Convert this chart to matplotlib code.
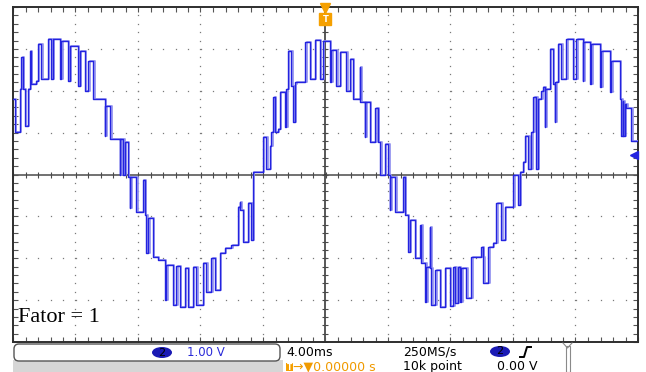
import matplotlib.pyplot as plt
import numpy as np
from matplotlib.patches import FancyBboxPatch, Ellipse, Rectangle
from matplotlib.lines import Line2D
from matplotlib.transforms import IdentityTransform

# channel 2 trace: (time in ms, level in V) at each switching instant
cycle1_pos = [(-20.0, 1.80), (-19.90, 1.01), (-19.58, 2.04), (-19.46, 2.80), (-19.39, 2.04),
              (-19.26, 1.15), (-19.07, 2.04), (-18.94, 2.95), (-18.88, 2.16), (-18.56, 2.23),
              (-18.43, 3.11), (-18.18, 2.28), (-17.79, 3.23), (-17.54, 2.28), (-17.47, 3.23),
              (-17.02, 2.28), (-16.90, 3.19), (-16.51, 2.23), (-16.38, 3.06), (-15.87, 2.11),
              (-15.74, 2.95), (-15.42, 1.99), (-15.17, 2.71), (-14.85, 1.80), (-14.14, 0.91),
              (-14.08, 1.63), (-13.76, 0.84), (-13.18, 0.00), (-13.12, 0.84), (-12.93, 0.00),
              (-12.86, 0.77)]
cycle1_neg = [(-12.67, -0.05), (-12.54, -0.79), (-12.48, -0.05), (-12.10, -0.89), (-11.71, -0.12),
              (-11.58, -0.96), (-11.46, -1.87), (-11.33, -1.03), (-11.07, -1.96), (-10.75, -2.04),
              (-10.30, -2.99), (-10.18, -2.16), (-9.79, -3.11), (-9.54, -2.18), (-9.34, -3.16),
              (-9.02, -2.23), (-8.83, -3.16), (-8.51, -2.20), (-8.26, -3.11), (-7.87, -2.11),
              (-7.62, -2.80), (-7.30, -1.99), (-7.10, -2.75), (-6.78, -1.87), (-6.46, -1.75),
              (-6.02, -1.68), (-5.63, -0.77), (-5.50, -0.65), (-5.44, -0.84), (-5.31, -1.60),
              (-4.99, -0.67), (-4.74, -1.56)]
cycle2_pos = [(-4.67, 0.05), (-4.03, 0.89), (-3.78, 0.12), (-3.58, 0.67), (-3.46, 1.01),
              (-3.33, 1.84), (-3.26, 1.01), (-3.07, 1.08), (-2.94, 1.96), (-2.56, 1.13),
              (-2.50, 2.04), (-2.43, 2.95), (-2.18, 2.11), (-2.05, 1.25), (-1.98, 2.16),
              (-1.92, 2.20), (-1.28, 3.16), (-1.02, 2.28), (-0.70, 3.21), (-0.38, 2.28),
              (-0.19, 3.19), (0.26, 2.20), (0.38, 2.97), (0.70, 2.11), (0.90, 2.92),
              (1.34, 1.99), (1.54, 2.75), (1.73, 1.80), (2.18, 2.56), (2.24, 1.72),
              (2.50, 0.89), (2.56, 1.72), (2.82, 0.77), (3.20, 1.60), (3.33, 0.77),
              (3.52, 0.00), (3.78, 0.72)]
cycle2_neg = [(4.03, -0.02), (4.10, -0.84), (4.16, -0.05), (4.48, -0.89), (4.93, -0.07),
              (5.06, -0.96), (5.25, -1.84), (5.38, -1.08), (5.70, -1.99), (6.08, -1.20),
              (6.14, -2.11), (6.40, -3.04), (6.46, -2.20), (6.66, -1.25), (6.72, -2.23),
              (6.78, -3.11), (7.04, -2.28), (7.30, -3.16), (7.62, -2.23), (7.94, -3.14),
              (8.19, -2.20), (8.32, -3.07), (8.45, -2.20), (8.58, -3.04), (8.70, -2.23),
              (9.02, -2.95), (9.34, -1.96), (9.98, -1.72), (10.05, -1.96), (10.11, -2.59),
              (10.43, -1.72), (10.69, -1.63), (10.94, -0.67), (11.26, -1.56), (11.46, -0.77),
              (12.03, 0.00), (12.35, -0.72)]
cycle3_pos = [(12.42, 0.05), (12.61, 0.29), (12.74, 0.91), (12.99, 0.12), (13.18, 1.01),
              (13.31, 1.84), (13.50, 0.12), (13.57, 1.80), (13.82, 1.99), (13.89, 2.08),
              (14.02, 1.13), (14.08, 2.04), (14.34, 2.99), (14.53, 2.16), (14.66, 1.25),
              (14.72, 2.20), (14.85, 3.11), (15.10, 2.28), (15.42, 3.23), (15.81, 2.28),
              (16.06, 3.23), (16.45, 2.23), (16.51, 3.16), (16.90, 2.16), (17.02, 3.11),
              (17.54, 2.08), (17.66, 2.95), (18.18, 1.96), (18.30, 2.71), (18.82, 1.80),
              (18.94, 0.91), (19.01, 1.75), (19.07, 0.91), (19.14, 1.68), (19.26, 1.60),
              (19.58, 0.79), (20.0, 0.79)]

trigger_level = 0.47  # V, marker on the right edge
label = "Fator = 1"

W, H = 646, 372
fig = plt.figure(figsize=(W / 100, H / 100), dpi=100)
ax = fig.add_axes([13 / W, 30 / H, 625 / W, 335 / H])
ax.set_xlim(-20, 20)
ax.set_ylim(-4, 4)

# graticule: dotted divisions, crosshair with fine ticks
grid_col = "#7a7a7a"
for xd in np.arange(-16, 17, 4):
    if xd == 0:
        continue
    yy = np.arange(-4, 4.01, 0.2)
    ax.plot(np.full_like(yy, xd), yy, ls="none", marker="s", ms=0.9, mew=0, color=grid_col)
for yd in np.arange(-3, 4, 1):
    if yd == 0:
        continue
    xx = np.arange(-20, 20.01, 0.8)
    ax.plot(xx, np.full_like(xx, yd), ls="none", marker="s", ms=0.9, mew=0, color=grid_col)

ax.axhline(0, color="#4a4a4a", lw=1.1, zorder=1)
ax.axvline(0, color="#2a2a2a", lw=1.1, zorder=1)
xx = np.arange(-20, 20.01, 0.8)
ax.plot(xx, np.zeros_like(xx), ls="none", marker="|", ms=4, mew=0.8, color="#4a4a4a")
yy = np.arange(-4, 4.01, 0.2)
ax.plot(np.zeros_like(yy), yy, ls="none", marker="_", ms=5, mew=0.8, color="#4a4a4a")

ax.set_xticks(np.arange(-20, 20.01, 4))
ax.set_xticks(np.arange(-20, 20.01, 0.8), minor=True)
ax.set_yticks(np.arange(-4, 4.01, 1))
ax.set_yticks(np.arange(-4, 4.01, 0.2), minor=True)
ax.tick_params(which="both", direction="in", length=3.5, width=0.8, color="#555555",
               top=True, right=True, labelbottom=False, labelleft=False)
for s in ax.spines.values():
    s.set_linewidth(1.4)
    s.set_color("#2e2e2e")

# waveform
pts = cycle1_pos + cycle1_neg + cycle2_pos + cycle2_neg + cycle3_pos
t = np.array([p[0] for p in pts])
v = np.array([p[1] for p in pts])
ax.step(t + 0.12, v, where="post", color="#9696f0", lw=1.3, zorder=3)
ax.step(t, v, where="post", color="#2323e0", lw=1.0, zorder=4)

ax.text(0.008, 0.06, label, transform=ax.transAxes, fontsize=16,
        family="Liberation Serif", va="baseline", ha="left", zorder=5)

# trigger position (top) and trigger level (right) markers
xt = ax.get_xaxis_transform()
ax.plot([0], [0.997], marker="v", ms=6.5, color="#f5a000", transform=xt, clip_on=False, zorder=6)
ax.plot([0], [0.964], marker="s", ms=8, color="#f5a000", transform=xt, clip_on=False, zorder=6)
ax.text(0, 0.962, "T", transform=xt, fontsize=6, color="white", fontweight="bold",
        ha="center", va="center", zorder=7)
yt = ax.get_yaxis_transform()
ax.plot([0.993], [trigger_level], marker="<", ms=6, color="#2323e0", transform=yt,
        clip_on=False, zorder=6)

# status bar (display pixel coordinates)
idt = IdentityTransform()


def py(y):
    return H - y


fig.add_artist(Rectangle((13, py(372)), 270, 12, transform=idt, fc="#d6d6d6", ec="none"))
fig.add_artist(FancyBboxPatch((14, py(361)), 266, 17, boxstyle="round,pad=0,rounding_size=5",
                              transform=idt, fc="white", ec="#555555", lw=1))
fig.add_artist(Ellipse((162, py(352.5)), 20, 11, transform=idt, fc="#1a1ab4", ec="none"))
fig.text(162 / W, 1 - 352.5 / H, "2", ha="center", va="center", fontsize=8, color="black")
fig.text(187 / W, 1 - 352.5 / H, "1.00 V", ha="left", va="center", fontsize=8.5, color="#2a2ad8")

fig.text(286 / W, 1 - 352 / H, "4.00ms", ha="left", va="center", fontsize=9, color="black")
fig.add_artist(Rectangle((286, py(371)), 7, 8, transform=idt, fc="#f5a000", ec="none"))
fig.text(289.5 / W, 1 - 367 / H, "T", ha="center", va="center", fontsize=5.5, color="white",
         fontweight="bold")
fig.text(293 / W, 1 - 366.5 / H, "\u2192\u25bc0.00000 s", ha="left", va="center", fontsize=9,
         color="#f09a00")
fig.text(403 / W, 1 - 352 / H, "250MS/s", ha="left", va="center", fontsize=9, color="black")
fig.text(403 / W, 1 - 366.5 / H, "10k point", ha="left", va="center", fontsize=9, color="black")
fig.add_artist(Ellipse((500, py(351.5)), 20, 11, transform=idt, fc="#1a1ab4", ec="none"))
fig.text(500 / W, 1 - 351.5 / H, "2", ha="center", va="center", fontsize=8, color="black")
fig.add_artist(Line2D([520, 524, 527, 531], [py(357), py(357), py(347), py(347)],
                      transform=idt, color="black", lw=1.4))
fig.text(497 / W, 1 - 366.5 / H, "0.00 V", ha="left", va="center", fontsize=9, color="black")
fig.add_artist(Rectangle((565.5, py(372)), 4, 26, transform=idt, fc="white", ec="#8a8a8a", lw=0.8))
fig.add_artist(Line2D([563, 567.5, 572], [py(343), py(348), py(343)], transform=idt,
                      color="#8a8a8a", lw=0.8))

fig.savefig("out.png", dpi=100)
